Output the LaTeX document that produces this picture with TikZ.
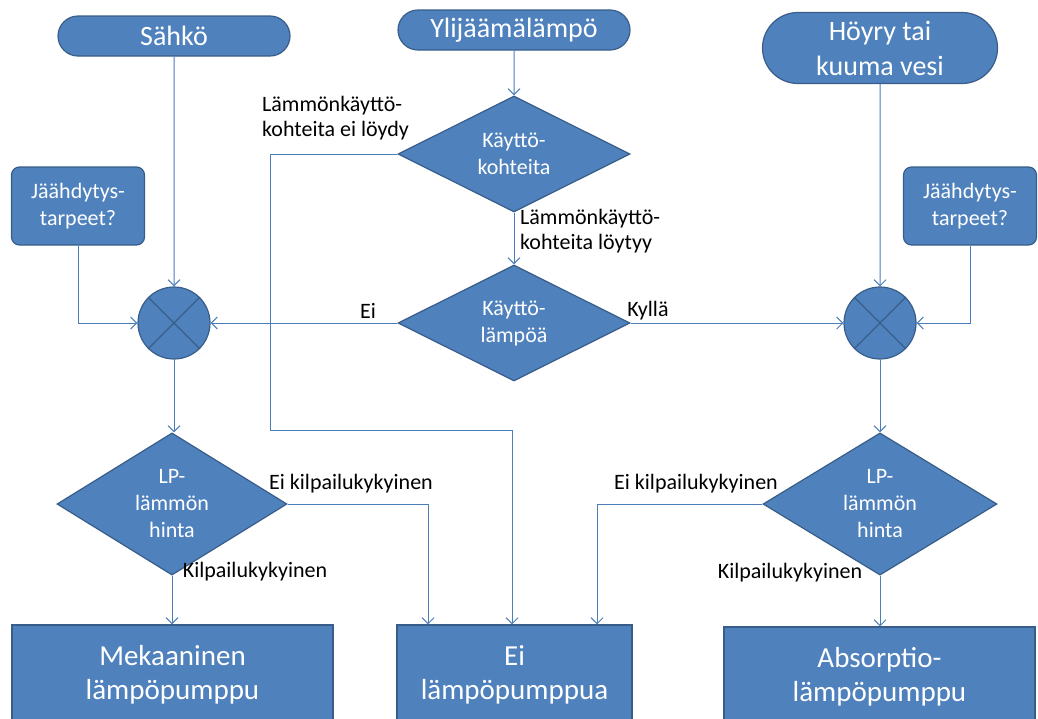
\documentclass[tikz,border=0pt]{standalone}
\usepackage{fontspec}
\setmainfont{Carlito}
\usetikzlibrary{shapes.geometric,shapes.misc,arrows.meta}
\definecolor{fillblue}{HTML}{4F81BD}
\definecolor{edgeblue}{HTML}{385D8A}
\definecolor{lineblue}{HTML}{4A7EBB}
\begin{document}
\begin{tikzpicture}[x=1pt,y=-1pt,
  shp/.style={fill=fillblue, draw=edgeblue, line width=1.2pt, text=white, align=center, inner sep=0pt},
  term/.style={shp, rounded rectangle, minimum width=232pt, minimum height=40pt, font=\fontsize{28}{35}\selectfont},
  dec/.style={shp, diamond, minimum width=232pt, minimum height=116pt, font=\fontsize{22}{27}\selectfont},
  need/.style={shp, rectangle, rounded corners=8pt, minimum width=133pt, minimum height=78pt, font=\fontsize{22}{27}\selectfont},
  endbox/.style={shp, rectangle, minimum height=100pt, font=\fontsize{29}{34}\selectfont},
  mix/.style={shp, circle, minimum size=72pt},
  conn/.style={draw=lineblue, line width=1pt, -{Straight Barb[length=6pt,width=12pt]}},
  lbl/.style={font=\fontsize{22}{25}\selectfont, align=left, inner sep=0pt}
]
\useasboundingbox (0,0) rectangle (1038,718);
\begin{scope}
\clip (0,0) rectangle (1038,718);
% terminals
\node[term] (sahko) at (174,36) {Sähkö};
\node[term] (ylij) at (514,30) {Ylijäämälämpö};
\node[term, minimum width=235pt, minimum height=71pt, rounded rectangle arc length=180] (hoyry) at (880,48) {Höyry tai\\kuuma vesi};
% decisions
\node[dec] (kk) at (514,154) {Käyttö-\\kohteita};
\node[dec] (kl) at (514,323) {Käyttö-\\lämpöä};
\node[dec, minimum width=230pt, minimum height=107pt] (lpl) at (172,504) {LP-\\lämmön\\hinta};
\node[dec, minimum width=234pt, minimum height=107pt] (lpr) at (880,504) {LP-\\lämmön\\hinta};
% cooling needs
\node[need] (jl) at (78,206) {Jäähdytys-\\tarpeet?};
\node[need] (jr) at (970,206) {Jäähdytys-\\tarpeet?};
% mixers
\node[mix] (ml) at (174,323) {};
\node[mix] (mr) at (880,323) {};
\draw[edgeblue, line width=1.2pt] (ml.north west) -- (ml.south east) (ml.north east) -- (ml.south west);
\draw[edgeblue, line width=1.2pt] (mr.north west) -- (mr.south east) (mr.north east) -- (mr.south west);
% end boxes
\node[endbox, minimum width=321pt] (mek) at (172.5,675) {Mekaaninen\\lämpöpumppu};
\node[endbox, minimum width=235pt] (ei) at (514.5,675) {Ei\\lämpöpumppua};
\node[endbox, minimum width=311pt] (abs) at (879.5,677) {Absorptio-\\lämpöpumppu};
% connectors
\draw[conn] (sahko) -- (ml);
\draw[conn] (jl.south) |- (ml.west);
\draw[conn] (ylij) -- (kk);
\draw[conn] (kk) -- (kl);
\coordinate (k1) at (270,154);
\coordinate (k2) at (270,430);
\coordinate (k3) at (512,430);
\draw[conn] (kk.west) -- (k1) -- (k2) -- (k3) -- (k3 |- ei.north);
\draw[conn] (kl.west) -- (ml.east);
\draw[conn] (kl.east) -- (mr.west);
\draw[conn] (hoyry) -- (mr);
\draw[conn] (jr.south) |- (mr.east);
\draw[conn] (ml) -- (lpl.north -| ml.south);
\draw[conn] (mr) -- (lpr);
\coordinate (e1) at (428,504);
\draw[conn] (lpl.east) -- (e1) -- (e1 |- ei.north);
\coordinate (e2) at (597,504);
\draw[conn] (lpr.west) -- (e2) -- (e2 |- ei.north);
\draw[conn] (lpl.south) -- (lpl.south |- mek.north);
\draw[conn] (lpr.south) -- (lpr.south |- abs.north);
% labels
\node[lbl, anchor=west] (t1) at (262,118) {Lämmönkäyttö-\\kohteita ei löydy};
\node[lbl, anchor=west] (t2) at (520,231) {Lämmönkäyttö-\\kohteita löytyy};
\node[lbl] (t3) at (368,311) {Ei};
\node[lbl] (t4) at (648,311) {Kyllä};
\node[lbl] (t5) at (351,484) {Ei kilpailukykyinen};
\node[lbl] (t6) at (696,484) {Ei kilpailukykyinen};
\node[lbl] (t7) at (255,572) {Kilpailukykyinen};
\node[lbl] (t8) at (790,573) {Kilpailukykyinen};
\end{scope}
\end{tikzpicture}
\end{document}
